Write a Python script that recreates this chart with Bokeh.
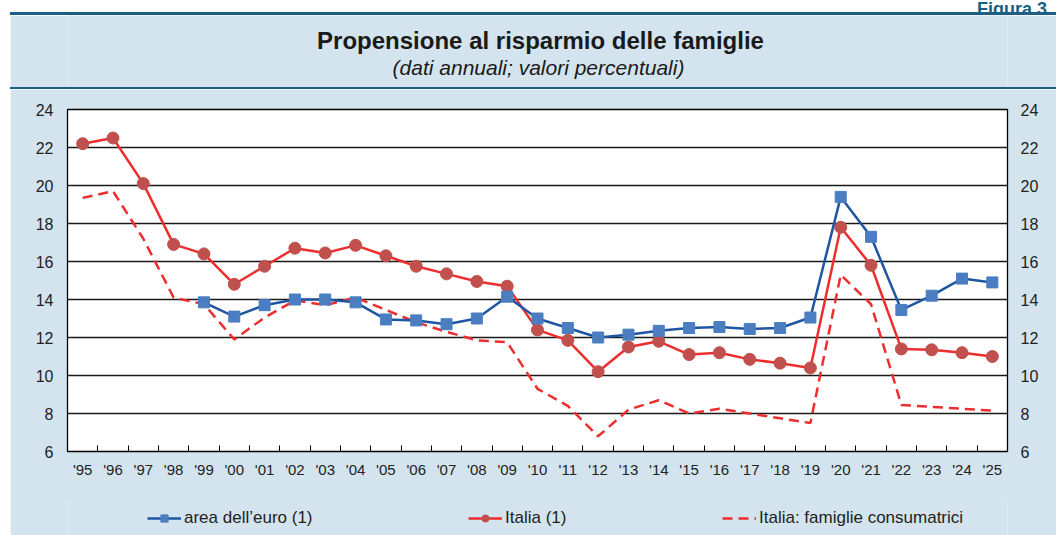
from bokeh.plotting import figure
from bokeh.layouts import column
from bokeh.models import (Range1d, FixedTicker, LinearAxis, Legend, LegendItem, Div)
from bokeh.core.properties import value
from bokeh.embed import file_html
from bokeh.resources import INLINE

# ---------------- data ----------------
years = ["'95", "'96", "'97", "'98", "'99", "'00", "'01", "'02", "'03", "'04",
         "'05", "'06", "'07", "'08", "'09", "'10", "'11", "'12", "'13", "'14",
         "'15", "'16", "'17", "'18", "'19", "'20", "'21", "'22", "'23", "'24", "'25"]

area_euro = [None, None, None, None, 13.85, 13.1, 13.7, 14.0, 14.0, 13.85,
             12.95, 12.9, 12.7, 13.0, 14.15, 13.0, 12.5, 12.0, 12.15, 12.35,
             12.5, 12.55, 12.45, 12.5, 13.05, 19.4, 17.3, 13.45, 14.2, 15.1, 14.9]

italia = [22.2, 22.5, 20.1, 16.9, 16.4, 14.8, 15.75, 16.7, 16.45, 16.85,
          16.3, 15.75, 15.35, 14.95, 14.7, 12.4, 11.85, 10.2, 11.5, 11.8,
          11.1, 11.2, 10.85, 10.65, 10.4, 17.8, 15.8, 11.4, 11.35, 11.2, 11.0]

famiglie_consumatrici = [19.35, 19.7, 17.2, 14.1, 13.75, 11.9, 13.05, 13.95, 13.7, 14.1,
                         13.45, 12.8, 12.3, 11.85, 11.75, 9.3, 8.4, 6.8, 8.2, 8.7,
                         8.0, 8.25, 8.0, 7.75, 7.5, 15.3, 13.75, 8.45, 8.35, 8.25, 8.15]

y_ticks = [6, 8, 10, 12, 14, 16, 18, 20, 22, 24]

figure_label = "Figura 3."
title_text = "Propensione al risparmio delle famiglie"
subtitle_text = "(dati annuali; valori percentuali)"
legend_labels = ["area dell\u2019euro (1)", "Italia (1)", "Italia: famiglie consumatrici"]

# ---------------- styles ----------------
PANEL = "#d3e4ee"
DARK = "#1d5f82"
BLUE_LINE = "#1f56a3"
BLUE_MARK = "#4a7ec0"
RED_LINE = "#ee2d2d"
RED_MARK = "#c0504d"
FONT = "Liberation Sans"
TXT = "#222222"

W = 1046
LEFT = 10

n = len(years)
xs = list(range(n))
nan = float("nan")
euro_y = [nan if v is None else v for v in area_euro]


def bare(fig):
    fig.axis.visible = False
    fig.grid.visible = False
    return fig


# ---------------- header ----------------
fig_lab = Div(text="<div style='margin-top:-9px; padding-right:4px'>" + figure_label + "</div>",
              width=W, height=12, margin=(0, 0, 0, LEFT),
              styles={"overflow": "hidden", "text-align": "right",
                      "font-family": "'Liberation Sans'", "font-weight": "bold",
                      "font-size": "18px", "line-height": "19px", "color": DARK})

line_top = Div(text="", width=W, height=3, margin=(0, 0, 0, LEFT),
               styles={"background-color": DARK})

hdr = figure(width=W, height=72, x_range=Range1d(67, 1007), y_range=Range1d(87, 15),
             output_backend="svg", toolbar_location=None, min_border=0,
             background_fill_color=PANEL, border_fill_color=PANEL,
             outline_line_color=None, margin=(0, 0, 0, LEFT))
bare(hdr)
hdr.text(x=[540], y=[40], text=[title_text], text_align="center",
         text_baseline="alphabetic", text_font=value(FONT), text_font_style="bold",
         text_font_size="24px", text_color="#1a1a1a")
hdr.text(x=[538], y=[67], text=[subtitle_text], text_align="center",
         text_baseline="alphabetic", text_font=value(FONT), text_font_style="italic",
         text_font_size="21px", text_color="#1a1a1a")

line_mid = Div(text="", width=W, height=2, margin=(0, 0, 0, LEFT),
               styles={"background-color": DARK})

# ---------------- main chart ----------------
p = figure(width=W, height=412, x_range=Range1d(-0.5, n - 0.5), y_range=Range1d(6, 24),
           output_backend="svg", toolbar_location=None,
           background_fill_color="white", border_fill_color=PANEL,
           outline_line_color="black", outline_line_width=1.3,
           min_border_left=57, min_border_right=49, min_border_top=20, min_border_bottom=50,
           margin=(0, 0, 0, LEFT))

yt = FixedTicker(ticks=y_ticks)
p.yaxis.ticker = yt
p.ygrid.ticker = yt
p.ygrid.grid_line_color = "#1a1a1a"
p.ygrid.grid_line_width = 1.3
p.xgrid.visible = False

ax = p.yaxis[0]
ax.axis_line_color = None
ax.major_tick_line_color = None
ax.major_tick_out = 0
ax.minor_tick_line_color = None
ax.major_label_text_font = FONT
ax.major_label_text_font_size = "16px"
ax.major_label_text_color = TXT
ax.major_label_standoff = 14

ry = LinearAxis(ticker=FixedTicker(ticks=y_ticks), axis_line_color=None,
                major_tick_line_color=None, major_tick_out=0, minor_tick_line_color=None,
                major_label_text_font=FONT, major_label_text_font_size="16px",
                major_label_text_color=TXT, major_label_standoff=13)
p.add_layout(ry, "right")

xt = FixedTicker(ticks=xs, minor_ticks=[i + 0.5 for i in range(n - 1)])
p.xaxis.ticker = xt
p.xaxis.major_label_overrides = {i: y for i, y in enumerate(years)}
p.xaxis.major_tick_line_color = None
p.xaxis.major_tick_out = 0
p.xaxis.major_tick_in = 0
p.xaxis.minor_tick_in = 6
p.xaxis.minor_tick_out = 0
p.xaxis.minor_tick_line_color = "black"
p.xaxis.minor_tick_line_width = 1
p.xaxis.axis_line_color = "black"
p.xaxis.major_label_text_font = FONT
p.xaxis.major_label_text_font_size = "15px"
p.xaxis.major_label_text_color = TXT
p.xaxis.major_label_standoff = 9


def draw_series(fig):
    r_dash = fig.line(xs, famiglie_consumatrici, line_color=RED_LINE, line_width=2.5,
                      line_dash="10 6")
    r_it_l = fig.line(xs, italia, line_color=RED_LINE, line_width=2.5)
    r_it_m = fig.scatter(xs, italia, marker="circle", size=12, fill_color=RED_MARK,
                         line_color=RED_MARK)
    r_eu_l = fig.line(xs, euro_y, line_color=BLUE_LINE, line_width=2.5)
    r_eu_m = fig.scatter(xs, euro_y, marker="square", size=11, fill_color=BLUE_MARK,
                         line_color=BLUE_MARK)
    return r_dash, r_it_l, r_it_m, r_eu_l, r_eu_m


draw_series(p)

# ---------------- legend strip ----------------
lf = figure(width=W, height=36, x_range=Range1d(-0.5, n - 0.5), y_range=Range1d(100, 101),
            output_backend="svg", toolbar_location=None, min_border=0,
            background_fill_color=PANEL, border_fill_color=PANEL,
            outline_line_color=None, margin=(-1, 0, 0, LEFT))
bare(lf)
l_dash, l_it_l, l_it_m, l_eu_l, l_eu_m = draw_series(lf)

leg_specs = [([l_eu_l, l_eu_m], legend_labels[0], 80),
             ([l_it_l, l_it_m], legend_labels[1], 401),
             ([l_dash], legend_labels[2], 655)]
for rends, lab, lx in leg_specs:
    lg = Legend(items=[LegendItem(label=lab, renderers=rends)],
                location=(lx, 8), orientation="horizontal",
                padding=0, margin=0, spacing=0,
                glyph_width=34, glyph_height=18, label_standoff=3,
                border_line_color=None, background_fill_alpha=0,
                label_text_font=FONT, label_text_font_size="17px",
                label_text_color=TXT)
    lf.add_layout(lg, "center")

layout = column(fig_lab, line_top, hdr, line_mid, p, lf, spacing=0)

open("out.html", "w").write(file_html(layout, INLINE))
